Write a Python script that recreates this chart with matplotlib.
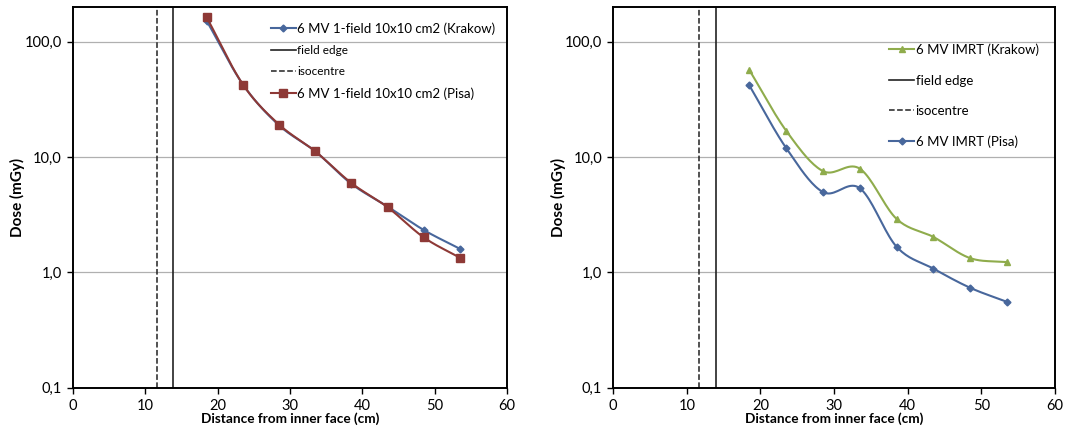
import numpy as np
import matplotlib
matplotlib.use('Agg')
import matplotlib.pyplot as plt
from matplotlib.ticker import FixedLocator, FixedFormatter

plt.rcParams['font.family'] = ['Lato', 'DejaVu Sans']

# 数据
distance = [18.5, 23.5, 28.5, 33.5, 38.5, 43.5, 48.5, 53.5]
field_krakow = [151, 42.5, 18.8, 11.2, 5.85, 3.72, 2.33, 1.60]
field_pisa = [162, 42.5, 19.1, 11.2, 5.94, 3.67, 2.01, 1.34]
imrt_krakow = [56.7, 16.9, 7.55, 7.93, 2.91, 2.03, 1.33, 1.23]
imrt_pisa = [41.7, 11.97, 4.97, 5.37, 1.67, 1.08, 0.736, 0.556]
field_edge = 13.9
isocentre = 11.6
y_ticks = [0.1, 1, 10, 100]
y_labels = ['0,1', '1,0', '10,0', '100,0']

BLUE = '#48679c'
RED = '#8e3936'
GREEN = '#8fac4c'


def smooth(x, y, n=20):
    # Excel风格平滑曲线 (Catmull-Rom, 对数空间)
    x = np.asarray(x, float)
    ly = np.log10(np.asarray(y, float))
    px = np.concatenate([[2 * x[0] - x[1]], x, [2 * x[-1] - x[-2]]])
    py = np.concatenate([[2 * ly[0] - ly[1]], ly, [2 * ly[-1] - ly[-2]]])
    xs, ys = [], []
    for i in range(1, len(px) - 2):
        t = np.linspace(0, 1, n, endpoint=False)
        for arr, out in ((px, xs), (py, ys)):
            p0, p1, p2, p3 = arr[i - 1], arr[i], arr[i + 1], arr[i + 2]
            out.extend(0.5 * ((2 * p1) + (-p0 + p2) * t
                              + (2 * p0 - 5 * p1 + 4 * p2 - p3) * t ** 2
                              + (-p0 + 3 * p1 - 3 * p2 + p3) * t ** 3))
    xs.append(x[-1])
    ys.append(ly[-1])
    return np.array(xs), 10 ** np.array(ys)


def setup(ax, ylab_x):
    ax.set_yscale('log')
    ax.set_xlim(0, 60)
    ax.set_ylim(0.1, 200)
    ax.yaxis.set_major_locator(FixedLocator(y_ticks))
    ax.yaxis.set_major_formatter(FixedFormatter(y_labels))
    ax.yaxis.set_minor_locator(FixedLocator([]))
    ax.set_xticks(range(0, 61, 10))
    ax.tick_params(labelsize=10.5, length=4, width=1, pad=4)
    for g in [1, 10, 100]:
        ax.axhline(g, color='#b0b0b0', lw=0.9, zorder=0)
    for s in ax.spines.values():
        s.set_linewidth(1.4)
    ax.set_xlabel('Distance from inner face (cm)', fontsize=9.8, fontweight='bold')
    ax.xaxis.set_label_coords(0.5, -0.064)
    ax.set_ylabel('Dose (mGy)', fontsize=11, fontweight='bold', va='center')
    ax.yaxis.set_label_coords(ylab_x, 0.5)


def series(ax, y, color, marker, ms, label):
    sx, sy = smooth(distance, y)
    ax.plot(sx, sy, color=color, lw=1.5)
    ax.plot(distance, y, ls='none', marker=marker, ms=ms, color=color)
    return ax.plot([], [], color=color, lw=1.5, marker=marker, ms=ms, label=label)[0]


fig = plt.figure(figsize=(10.72, 4.3), dpi=100)
ax1 = fig.add_axes([0.068, 0.098, 0.405, 0.886])
ax2 = fig.add_axes([0.572, 0.098, 0.412, 0.886])

# 左图
setup(ax1, -0.127)
h1 = series(ax1, field_krakow, BLUE, 'D', 3.5, '6 MV 1-field 10x10 cm2 (Krakow)')
fe1 = ax1.axvline(field_edge, color='#222222', lw=1.2, label='field edge')
iso1 = ax1.axvline(isocentre, color='#222222', lw=1.1, ls='--', label='isocentre')
h2 = series(ax1, field_pisa, RED, 's', 5.5, '6 MV 1-field 10x10 cm2 (Pisa)')
leg1 = ax1.legend(handles=[h1, fe1, iso1, h2], loc='upper right', frameon=False,
                  fontsize=9.5, handlelength=1.9, handletextpad=0.1,
                  labelspacing=0.75, bbox_to_anchor=(1.0, 0.99))
for t in leg1.get_texts()[1:3]:
    t.set_fontsize(8.5)

# 右图
setup(ax2, -0.124)
h3 = series(ax2, imrt_krakow, GREEN, '^', 5, '6 MV IMRT (Krakow)')
fe2 = ax2.axvline(field_edge, color='#222222', lw=1.2, label='field edge')
iso2 = ax2.axvline(isocentre, color='#222222', lw=1.1, ls='--', label='isocentre')
h4 = series(ax2, imrt_pisa, BLUE, 'D', 3.5, '6 MV IMRT (Pisa)')
ax2.legend(handles=[h3, fe2, iso2, h4], loc='upper right', frameon=False,
           fontsize=9.5, handlelength=1.9, handletextpad=0.1,
           labelspacing=1.4, bbox_to_anchor=(0.99, 0.935))

fig.savefig('out.png', dpi=100)
